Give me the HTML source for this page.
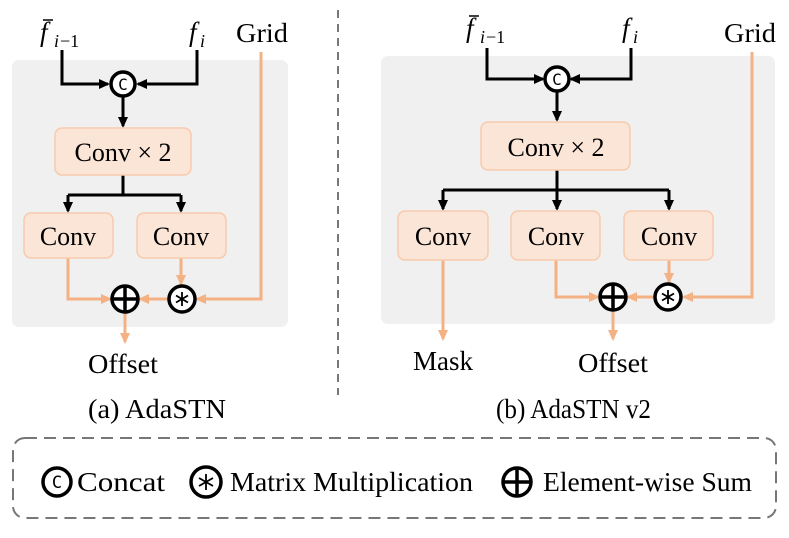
<!DOCTYPE html>
<html><head><style>html,body{margin:0;padding:0;background:#fff}svg{display:block}</style></head>
<body>
<svg width="789" height="538" viewBox="0 0 789 538" xmlns="http://www.w3.org/2000/svg" font-family="Liberation Serif, serif">
<defs>
<marker id="ak" markerWidth="12" markerHeight="12" refX="9" refY="6" orient="auto" markerUnits="userSpaceOnUse"><path d="M0,1 L11,6 L0,11 z" fill="#000"/></marker>
<marker id="ao" markerWidth="12" markerHeight="12" refX="9" refY="6" orient="auto" markerUnits="userSpaceOnUse"><path d="M0,1 L11,6 L0,11 z" fill="#f4b183"/></marker>
</defs>
<rect x="12" y="60" width="276" height="267" rx="7" fill="#f0f0f0"/>
<rect x="381" y="56" width="394" height="268" rx="7" fill="#f0f0f0"/>
<line x1="338" y1="10" x2="338" y2="395" stroke="#777" stroke-width="2" stroke-dasharray="8,6"/>

<g fill="none" stroke-width="3">
<path d="M62,50 V84 H108" stroke="#000" marker-end="url(#ak)"/>
<path d="M197,50 V84 H138" stroke="#000" marker-end="url(#ak)"/>
<path d="M123,96 V126" stroke="#000" marker-end="url(#ak)"/>
<path d="M123,175 V195 M68,195 H181" stroke="#000"/>
<path d="M68,195 V211" stroke="#000" marker-end="url(#ak)"/>
<path d="M181,195 V211" stroke="#000" marker-end="url(#ak)"/>
<path d="M68,258 V299 H110" stroke="#f4b183" marker-end="url(#ao)"/>
<path d="M181,258 V284" stroke="#f4b183" marker-end="url(#ao)"/>
<path d="M261,52 V299 H197" stroke="#f4b183" marker-end="url(#ao)"/>
<path d="M168,299 H140" stroke="#f4b183" marker-end="url(#ao)"/>
<path d="M125,312 V342" stroke="#f4b183" marker-end="url(#ao)"/>
<path d="M487,48 V79 H543" stroke="#000" marker-end="url(#ak)"/>
<path d="M631,48 V79 H571" stroke="#000" marker-end="url(#ak)"/>
<path d="M557,91 V120" stroke="#000" marker-end="url(#ak)"/>
<path d="M557,170 V190 M443,190 H669" stroke="#000"/>
<path d="M443,190 V209" stroke="#000" marker-end="url(#ak)"/>
<path d="M557,190 V209" stroke="#000" marker-end="url(#ak)"/>
<path d="M669,190 V209" stroke="#000" marker-end="url(#ak)"/>
<path d="M443,260 V339" stroke="#f4b183" marker-end="url(#ao)"/>
<path d="M556,260 V297 H598" stroke="#f4b183" marker-end="url(#ao)"/>
<path d="M669,260 V282" stroke="#f4b183" marker-end="url(#ao)"/>
<path d="M752,52 V297 H684" stroke="#f4b183" marker-end="url(#ao)"/>
<path d="M654,297 H628" stroke="#f4b183" marker-end="url(#ao)"/>
<path d="M613,310 V339" stroke="#f4b183" marker-end="url(#ao)"/>
</g>

<g fill="#fbe5d6" stroke="#f8cbad" stroke-width="1.5">
<rect x="55" y="128" width="136" height="47" rx="7"/>
<rect x="24" y="213" width="89" height="45" rx="7"/>
<rect x="137" y="213" width="89" height="45" rx="7"/>
<rect x="481" y="122" width="149" height="48" rx="7"/>
<rect x="398" y="211" width="90" height="49" rx="7"/>
<rect x="511" y="211" width="89" height="49" rx="7"/>
<rect x="624" y="211" width="89" height="49" rx="7"/>
</g>
<g font-size="26" text-anchor="middle" fill="#000">
<text x="123" y="161">Conv × 2</text>
<text x="68" y="245">Conv</text>
<text x="181" y="245">Conv</text>
<text x="556" y="156">Conv × 2</text>
<text x="443" y="245">Conv</text>
<text x="556" y="245">Conv</text>
<text x="669" y="245">Conv</text>
</g>

<g fill="#fff" stroke="#000" stroke-width="3.5">
<circle cx="123" cy="84" r="12"/><circle cx="557" cy="79" r="12"/>
<circle cx="125" cy="299" r="13"/><circle cx="182" cy="299" r="13"/>
<circle cx="613" cy="297" r="13"/><circle cx="668" cy="297" r="13"/>
<circle cx="57" cy="482" r="14"/><circle cx="206" cy="482" r="15"/><circle cx="517" cy="482" r="14"/>
</g>
<g stroke="#000" stroke-width="3.5">
<path d="M112,299 H138 M125,286 V312"/><path d="M600,297 H626 M613,284 V310"/><path d="M503,482 H531 M517,468 V496"/>
</g>
<g stroke="#000" stroke-width="1.8">
<path d="M182,292 V306 M176,295.5 L188,302.5 M176,302.5 L188,295.5"/>
<path d="M668,290 V304 M662,293.5 L674,300.5 M662,300.5 L674,293.5"/>
<path d="M206,474 V490 M199,478 L213,486 M199,486 L213,478"/>
</g>
<g font-family="DejaVu Sans Mono, monospace" text-anchor="middle" fill="#000">
<text x="123" y="90" font-size="16">C</text><text x="557" y="85" font-size="16">C</text><text x="57" y="488" font-size="17">C</text>
</g>

<g font-size="27" fill="#000" lengthAdjust="spacingAndGlyphs">
<text x="40" y="41" font-style="italic">f</text><text x="54" y="47" font-style="italic" font-size="18">i</text><text x="60" y="47" font-size="18">−1</text>
<path d="M43,20 H53" stroke="#000" stroke-width="1.5"/>
<text x="189" y="41" font-style="italic">f</text><text x="200" y="47" font-style="italic" font-size="18">i</text>
<text x="236" y="42" textLength="52" lengthAdjust="spacingAndGlyphs">Grid</text>
<text x="466" y="37" font-style="italic">f</text><text x="480" y="43" font-style="italic" font-size="18">i</text><text x="486" y="43" font-size="18">−1</text>
<path d="M469,16 H479" stroke="#000" stroke-width="1.5"/>
<text x="622" y="37" font-style="italic">f</text><text x="633" y="43" font-style="italic" font-size="18">i</text>
<text x="724" y="42" textLength="52" lengthAdjust="spacingAndGlyphs">Grid</text>
<text x="88" y="373" textLength="70" lengthAdjust="spacingAndGlyphs">Offset</text>
<text x="413" y="370" textLength="60" lengthAdjust="spacingAndGlyphs">Mask</text>
<text x="578" y="372" textLength="70" lengthAdjust="spacingAndGlyphs">Offset</text>
<text x="88" y="418" textLength="138" lengthAdjust="spacingAndGlyphs">(a) AdaSTN</text>
<text x="496" y="418" textLength="155" lengthAdjust="spacingAndGlyphs">(b) AdaSTN v2</text>
<text x="77" y="491" textLength="88" lengthAdjust="spacingAndGlyphs">Concat</text>
<text x="230" y="491" textLength="243" lengthAdjust="spacingAndGlyphs">Matrix Multiplication</text>
<text x="543" y="491" textLength="209" lengthAdjust="spacingAndGlyphs">Element-wise Sum</text>
</g>
<rect x="13" y="438" width="763" height="80" rx="12" fill="none" stroke="#777" stroke-width="2" stroke-dasharray="12,7"/>
</svg>
</body></html>
